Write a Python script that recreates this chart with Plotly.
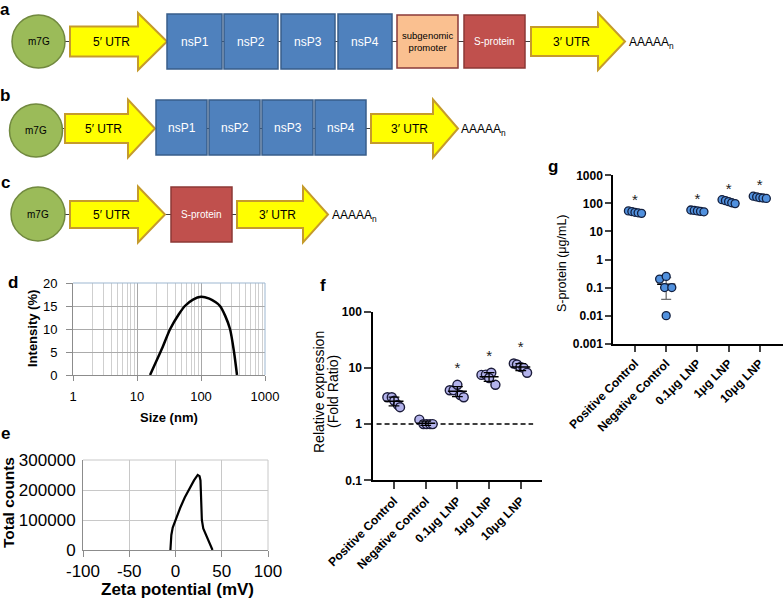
import numpy as np
import plotly.graph_objects as go

W, H = 783, 598
FONT = "Arial, Liberation Sans, Helvetica, sans-serif"

# ---------------- data ----------------
D_SIZE_NM = [16, 20, 25, 33, 45, 56, 75, 100, 135, 170, 198, 240, 284, 328, 365]
D_INTENSITY = [0, 3, 6, 10, 13.2, 15, 16.4, 17, 16.6, 15.8, 15, 12.8, 10, 5, 0]
D_XTICKS = [1, 10, 100, 1000]
D_YTICKS = [0, 5, 10, 15, 20]

E_ZETA_MV = [-5.5, -4.5, -3, 0, 5, 10, 15, 20, 24, 26, 27, 27.8, 28.5, 30, 34, 37, 40]
E_COUNTS = [0, 50000, 75000, 100000, 140000, 175000, 205000, 232000, 250000,
            246000, 232000, 170000, 100000, 72000, 45000, 25000, 0]
E_XTICKS = [-100, -50, 0, 50, 100]
E_YTICKS = [0, 100000, 200000, 300000]

CATEGORIES = ["Positive Control", "Negative Control", "0.1μg LNP", "1μg LNP", "10μg LNP"]

F_POSITIVE = [3.0, 3.0, 2.6, 2.2, 2.0]
F_NEGATIVE = [1.2, 1.0, 1.0, 1.0, 1.0]
F_LNP_01 = [4.0, 4.0, 5.0, 3.3, 3.0]
F_LNP_1 = [7.5, 7.6, 8.2, 6.6, 5.0]
F_LNP_10 = [12.0, 11.5, 10.4, 10.0, 8.2]
F_SIGNIFICANT = [False, False, True, True, True]
F_BASELINE = 1
F_YTICKS = [0.1, 1, 10, 100]

G_POSITIVE = [54, 51, 48, 46, 44]
G_NEGATIVE = [0.2, 0.25, 0.1, 0.1, 0.01]
G_LNP_01 = [58, 56, 54, 52, 50]
G_LNP_1 = [135, 125, 115, 105, 98]
G_LNP_10 = [180, 170, 160, 155, 150]
G_SIGNIFICANT = [True, False, True, True, True]
G_YTICKS = [0.001, 0.01, 0.1, 1, 10, 100, 1000]

# ---------------- layout helpers (pixel -> paper) ----------------
def px(x):
    return x / W


def py(y):
    return 1 - y / H


F_JITTER = [[-0.21, -0.07, 0.01, 0.12, 0.19],
            [-0.20, -0.07, 0.03, 0.14, 0.22],
            [-0.24, -0.12, 0.00, 0.09, 0.20],
            [-0.24, -0.10, 0.07, 0.00, 0.20],
            [-0.22, -0.12, -0.01, 0.09, 0.20]]
G_JITTER = [[-0.21, -0.10, 0.00, 0.10, 0.21],
            [-0.21, 0.00, -0.05, 0.18, 0.00],
            [-0.21, -0.10, 0.00, 0.10, 0.21],
            [-0.21, -0.10, 0.00, 0.10, 0.21],
            [-0.21, -0.10, 0.00, 0.10, 0.21]]

fig = go.Figure()
shapes = []
annots = []


def text(x, y, s, size=12, color="black", bold=False, xanchor="center", yanchor="middle", angle=0):
    annots.append(dict(x=px(x), y=py(y), xref="paper", yref="paper", text=s, showarrow=False,
                       xanchor=xanchor, yanchor=yanchor, textangle=angle,
                       font=dict(family=FONT, size=size, color=color,
                                 weight="bold" if bold else "normal")))


# ---------------- schematic panels a, b, c ----------------
def connector(x0, x1, y):
    shapes.append(dict(type="line", xref="paper", yref="paper", x0=px(x0), x1=px(x1),
                       y0=py(y), y1=py(y), line=dict(color="#404040", width=1)))


def cap(cx, cy, r):
    shapes.append(dict(type="circle", xref="paper", yref="paper", x0=px(cx - r), x1=px(cx + r),
                       y0=py(cy + r), y1=py(cy - r), fillcolor="#9BBB59",
                       line=dict(color="#71893F", width=1.5)))
    text(cx, cy, "m7G", size=10)


def arrow(x0, xh, xt, yc, hb, hh, label):
    pts = [(x0, yc - hb), (xh, yc - hb), (xh, yc - hh), (xt, yc), (xh, yc + hh), (xh, yc + hb), (x0, yc + hb)]
    path = "M " + " L ".join(f"{px(a):.5f},{py(b):.5f}" for a, b in pts) + " Z"
    shapes.append(dict(type="path", xref="paper", yref="paper", path=path, fillcolor="#FFFF00",
                       line=dict(color="#C59B2C", width=2)))
    text((x0 + xh) / 2 + 7, yc, label, size=12)


def box(x0, x1, y0, y1, label, kind):
    styles = {"nsp": ("#4F81BD", "#385D8A", "white", 12),
              "prom": ("#FAC090", "#8B3A38", "black", 9.5),
              "sprot": ("#C0504D", "#8C3836", "white", 10)}
    fill, edge, tc, ts = styles[kind]
    shapes.append(dict(type="rect", xref="paper", yref="paper", x0=px(x0), x1=px(x1),
                       y0=py(y1), y1=py(y0), fillcolor=fill, line=dict(color=edge, width=1.5)))
    text((x0 + x1) / 2, (y0 + y1) / 2, label, size=ts, color=tc)


def tail(x, y):
    text(x, y, "AAAAA<sub>n</sub>", size=12, xanchor="left")


# row a
connector(60, 535, 41.5)
cap(38.5, 41.5, 26.5)
arrow(70, 138, 167, 41.5, 15, 28.5, "5′ UTR")
for (a, b), lab in zip([(167, 222), (224, 278), (281, 335), (338, 392)], ["nsP1", "nsP2", "nsP3", "nsP4"]):
    box(a, b, 14, 69, lab, "nsp")
box(397, 458, 15, 68, "subgenomic<br>promoter", "prom")
box(464, 525, 15, 68, "S-protein", "sprot")
arrow(531, 598, 625, 41.5, 14.5, 28.5, "3′ UTR")
tail(627, 43)

# row b
connector(58, 375, 128.5)
cap(36, 130.5, 26.5)
arrow(65, 128, 155, 128.5, 14.5, 29, "5′ UTR")
for (a, b), lab in zip([(156, 207), (209, 260), (262, 313), (315, 366)], ["nsP1", "nsP2", "nsP3", "nsP4"]):
    box(a, b, 100, 155, lab, "nsp")
arrow(371, 433, 458, 128.5, 14.5, 29, "3′ UTR")
tail(459, 130)

# row c
connector(60, 240, 214.5)
cap(38, 214, 27)
arrow(70, 138, 165, 214.5, 13.5, 28, "5′ UTR")
box(171, 232, 187, 242, "S-protein", "sprot")
arrow(237, 303, 328, 214.5, 13.5, 28, "3′ UTR")
tail(330, 216)

# ---------------- panel d ----------------
fig.add_trace(go.Scatter(x=D_SIZE_NM, y=D_INTENSITY, mode="lines", xaxis="x", yaxis="y",
                         line=dict(color="black", width=2.5, shape="spline", smoothing=0.8),
                         hoverinfo="skip"))

# ---------------- panel e ----------------
fig.add_trace(go.Scatter(x=E_ZETA_MV, y=E_COUNTS, mode="lines", xaxis="x2", yaxis="y2",
                         line=dict(color="black", width=2.2), hoverinfo="skip"))


# ---------------- panels f, g ----------------
def stats_lines(groups, half_mean, half_cap):
    mx, my, ex, ey = [], [], [], []
    for i, vals in enumerate(groups):
        v = np.array(vals, dtype=float)
        m, sd = v.mean(), v.std(ddof=1)
        mx += [i - half_mean, i + half_mean, None]
        my += [m, m, None]
        lo, hi = max(m - sd, 1e-6), m + sd
        ex += [i, i, None, i - half_cap, i + half_cap, None, i - half_cap, i + half_cap, None]
        ey += [lo, hi, None, lo, lo, None, hi, hi, None]
    return mx, my, ex, ey


def points(groups, jitter):
    xs, ys = [], []
    for i, (vals, jit) in enumerate(zip(groups, jitter)):
        xs += [i + j for j in jit]
        ys += list(vals)
    return xs, ys


F_GROUPS = [F_POSITIVE, F_NEGATIVE, F_LNP_01, F_LNP_1, F_LNP_10]
G_GROUPS = [G_POSITIVE, G_NEGATIVE, G_LNP_01, G_LNP_1, G_LNP_10]

# f
fig.add_trace(go.Scatter(x=[-0.55, 4.39], y=[F_BASELINE, F_BASELINE], mode="lines", xaxis="x3", yaxis="y3",
                         line=dict(color="black", width=1.5, dash="5px,3px"), hoverinfo="skip"))
fx, fy = points(F_GROUPS, F_JITTER)
fig.add_trace(go.Scatter(x=fx, y=fy, mode="markers", xaxis="x3", yaxis="y3",
                         marker=dict(size=9, color="#B3B3EC", line=dict(color="#1C1C3A", width=1.4))))
mx, my, ex, ey = stats_lines(F_GROUPS, 0.3, 0.17)
fig.add_trace(go.Scatter(x=ex, y=ey, mode="lines", xaxis="x3", yaxis="y3",
                         line=dict(color="black", width=1.3), hoverinfo="skip"))
fig.add_trace(go.Scatter(x=mx, y=my, mode="lines", xaxis="x3", yaxis="y3",
                         line=dict(color="black", width=1.5), hoverinfo="skip"))
sx = [i for i, s in enumerate(F_SIGNIFICANT) if s]
sy = [max(F_GROUPS[i]) * 1.9 for i in sx]
fig.add_trace(go.Scatter(x=sx, y=sy, mode="text", text=["*"] * len(sx), xaxis="x3", yaxis="y3",
                         textfont=dict(family=FONT, size=15, color="#222")))

# g
mx, my, ex, ey = stats_lines(G_GROUPS, 0.29, 0.16)
fig.add_trace(go.Scatter(x=ex, y=ey, mode="lines", xaxis="x4", yaxis="y4",
                         line=dict(color="#6E6E6E", width=1.3), hoverinfo="skip"))
fig.add_trace(go.Scatter(x=mx, y=my, mode="lines", xaxis="x4", yaxis="y4",
                         line=dict(color="black", width=1.5), hoverinfo="skip"))
gx, gy = points(G_GROUPS, G_JITTER)
fig.add_trace(go.Scatter(x=gx, y=gy, mode="markers", xaxis="x4", yaxis="y4",
                         marker=dict(size=8, color="#5191DE", line=dict(color="#13203F", width=1.3))))
sx = [i for i, s in enumerate(G_SIGNIFICANT) if s]
sy = [max(G_GROUPS[i]) * 2.2 for i in sx]
fig.add_trace(go.Scatter(x=sx, y=sy, mode="text", text=["*"] * len(sx), xaxis="x4", yaxis="y4",
                         textfont=dict(family=FONT, size=15, color="#222")))

# borders for d and e
for xr, yr, col in [("x domain", "y domain", "#9DB7D1"), ("x2 domain", "y2 domain", "#C8C8C8")]:
    shapes.append(dict(type="line", xref=xr, yref=yr, x0=0, x1=1, y0=1, y1=1, line=dict(color=col, width=1)))
    shapes.append(dict(type="line", xref=xr, yref=yr, x0=1, x1=1, y0=0, y1=1, line=dict(color=col, width=1)))

# ---------------- text: labels & titles ----------------
for lab, x, base in [("a", 5, 14.5), ("b", 5, 100), ("c", 5, 187), ("d", 13, 287),
                     ("e", 5, 438), ("f", 323, 290), ("g", 553, 172)]:
    text(x, base - 5, lab, size=17, bold=True)

text(32, 329, "Intensity (%)", size=13, bold=True, angle=-90)
text(169, 417, "Size (nm)", size=13, bold=True)
text(8, 503, "Total counts", size=15.5, bold=True, angle=-90)
text(177, 589, "Zeta potential (mV)", size=17, bold=True)
text(319, 392, "Relative expression", size=14, angle=-90)
text(333, 392, "(Fold Ratio)", size=14, angle=-90)
text(562, 263, "S-protein (μg/mL)", size=12.5, angle=-90)

tf12b = dict(family=FONT, size=12, color="black", weight="bold")
grid_minor = [m * 10 ** k for k in range(3) for m in range(2, 10)]

fig.update_layout(
    width=W, height=H, margin=dict(l=0, r=0, t=0, b=0, autoexpand=False),
    paper_bgcolor="white", plot_bgcolor="white", showlegend=False,
    shapes=shapes, annotations=annots,
    # d
    xaxis=dict(domain=[px(73), px(265)], anchor="y", type="log", range=[0, 3], automargin=False,
               tickvals=D_XTICKS, ticktext=[str(v) for v in D_XTICKS],
               showgrid=True, gridcolor="#A8A8A8", gridwidth=1,
               minor=dict(tickvals=grid_minor, showgrid=True, gridcolor="#CFCFCF", ticks=""),
               showline=True, linecolor="#8C8C8C", ticks="outside", ticklen=5, tickcolor="#8C8C8C",
               tickfont=dict(family=FONT, size=13, color="black"), ticklabelstandoff=4, zeroline=False),
    yaxis=dict(domain=[py(375), py(283)], anchor="x", range=[0, 20], tickvals=D_YTICKS, automargin=False,
               showgrid=True, gridcolor="#ABABAB", showline=True, linecolor="#8C8C8C",
               ticks="outside", ticklen=6, tickcolor="#8C8C8C", ticklabelstandoff=6,
               tickfont=dict(family=FONT, size=13, color="black"), zeroline=False),
    # e
    xaxis2=dict(domain=[px(83), px(268)], anchor="y2", range=[-100, 100], tickvals=E_XTICKS, automargin=False,
                ticktext=[str(v) for v in E_XTICKS], showgrid=True, gridcolor="#C8C8C8",
                showline=True, linecolor="#8C8C8C", ticks="outside", ticklen=6, tickcolor="#8C8C8C",
                tickfont=dict(family=FONT, size=17, color="black"), zeroline=False),
    yaxis2=dict(domain=[py(550), py(460)], anchor="x2", range=[0, 300000], tickvals=E_YTICKS, automargin=False,
                ticktext=[str(v) for v in E_YTICKS], showgrid=True, gridcolor="#C8C8C8",
                showline=True, linecolor="#8C8C8C", ticks="", ticklabelstandoff=3,
                tickfont=dict(family=FONT, size=17, color="black"), zeroline=False),
    # f
    xaxis3=dict(domain=[px(373.3), px(542)], anchor="y3", range=[-0.653, 4.67], automargin=False,
                tickvals=list(range(len(CATEGORIES))), ticktext=CATEGORIES, tickangle=-45,
                showgrid=False, showline=True, linecolor="black", linewidth=2,
                ticks="outside", ticklen=7, tickwidth=2, tickfont=tf12b, zeroline=False),
    yaxis3=dict(domain=[py(480.3), py(311.7)], anchor="x3", type="log", range=[-1, 2], automargin=False,
                tickvals=F_YTICKS, ticktext=["0.1", "1", "10", "100"], showgrid=False,
                showline=True, linecolor="black", linewidth=2, ticks="outside", ticklen=7,
                tickwidth=2, tickfont=tf12b, zeroline=False),
    # g
    xaxis4=dict(domain=[px(613.3), 1.0], anchor="y4", range=[-0.695, 4.744], automargin=False,
                tickvals=list(range(len(CATEGORIES))), ticktext=CATEGORIES, tickangle=-45,
                showgrid=False, showline=True, linecolor="black", linewidth=2,
                ticks="outside", ticklen=6, tickwidth=2, tickfont=tf12b, zeroline=False),
    yaxis4=dict(domain=[py(343.7), py(175.3)], anchor="x4", type="log", range=[-3, 3], automargin=False,
                tickvals=G_YTICKS, ticktext=["0.001", "0.01", "0.1", "1", "10", "100", "1000"],
                showgrid=False, showline=True, linecolor="black", linewidth=2, ticks="outside",
                ticklen=6, tickwidth=2, tickfont=tf12b, zeroline=False),
)

fig.write_html("out.html", config={"displayModeBar": False},
               post_script="document.body.style.margin='0px';document.body.style.overflow='hidden';")
